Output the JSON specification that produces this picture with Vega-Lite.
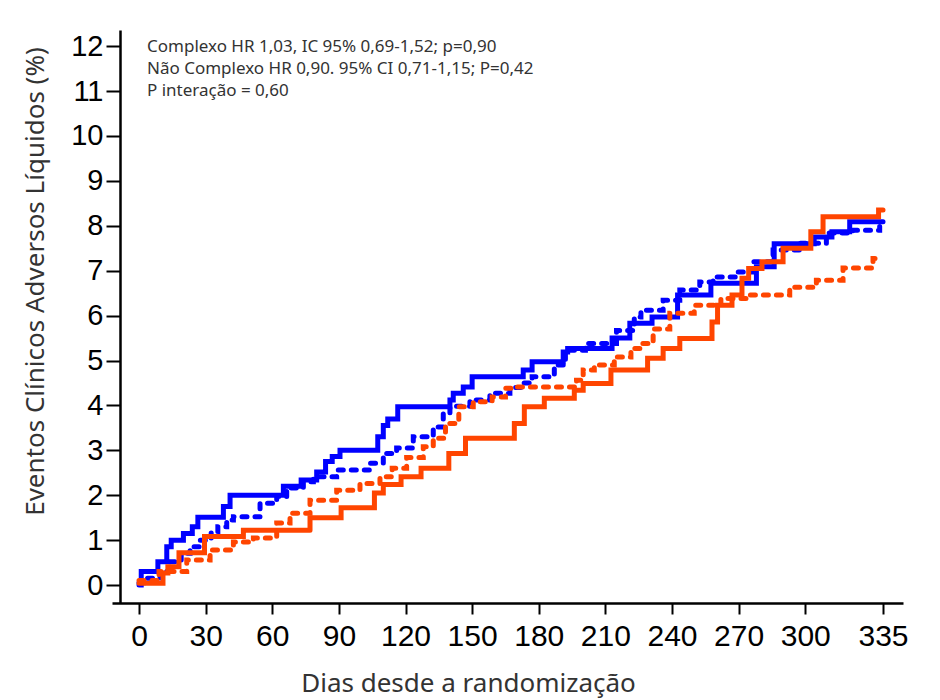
{
  "$schema": "https://vega.github.io/schema/vega-lite/v6.json",
  "autosize": {"type": "none"},
  "padding": {"left": 112, "top": 30, "right": 37, "bottom": 97},
  "width": 791,
  "height": 573,
  "background": "white",
  "config": {
    "view": {"stroke": null},
    "axis": {"grid": false, "domainColor": "black", "tickColor": "black", "labelColor": "black"}
  },
  "datasets": {
    "curvas": [
      {"grupo": "Grupo 1", "tipo": "Complexo", "dia": 0, "eventos": 0},
      {"grupo": "Grupo 1", "tipo": "Complexo", "dia": 1, "eventos": 0.3},
      {"grupo": "Grupo 1", "tipo": "Complexo", "dia": 8.5, "eventos": 0.52},
      {"grupo": "Grupo 1", "tipo": "Complexo", "dia": 12.5, "eventos": 0.85},
      {"grupo": "Grupo 1", "tipo": "Complexo", "dia": 14.5, "eventos": 1.0},
      {"grupo": "Grupo 1", "tipo": "Complexo", "dia": 20, "eventos": 1.15},
      {"grupo": "Grupo 1", "tipo": "Complexo", "dia": 24, "eventos": 1.3},
      {"grupo": "Grupo 1", "tipo": "Complexo", "dia": 26.5, "eventos": 1.51},
      {"grupo": "Grupo 1", "tipo": "Complexo", "dia": 38, "eventos": 1.75},
      {"grupo": "Grupo 1", "tipo": "Complexo", "dia": 41, "eventos": 2.0},
      {"grupo": "Grupo 1", "tipo": "Complexo", "dia": 65, "eventos": 2.2},
      {"grupo": "Grupo 1", "tipo": "Complexo", "dia": 73, "eventos": 2.34},
      {"grupo": "Grupo 1", "tipo": "Complexo", "dia": 80, "eventos": 2.52},
      {"grupo": "Grupo 1", "tipo": "Complexo", "dia": 84, "eventos": 2.75},
      {"grupo": "Grupo 1", "tipo": "Complexo", "dia": 87, "eventos": 2.86},
      {"grupo": "Grupo 1", "tipo": "Complexo", "dia": 90.5, "eventos": 3.0},
      {"grupo": "Grupo 1", "tipo": "Complexo", "dia": 107.5, "eventos": 3.3},
      {"grupo": "Grupo 1", "tipo": "Complexo", "dia": 110, "eventos": 3.55},
      {"grupo": "Grupo 1", "tipo": "Complexo", "dia": 112, "eventos": 3.7},
      {"grupo": "Grupo 1", "tipo": "Complexo", "dia": 116.5, "eventos": 3.97},
      {"grupo": "Grupo 1", "tipo": "Complexo", "dia": 140, "eventos": 4.12},
      {"grupo": "Grupo 1", "tipo": "Complexo", "dia": 141.5, "eventos": 4.27},
      {"grupo": "Grupo 1", "tipo": "Complexo", "dia": 146, "eventos": 4.41},
      {"grupo": "Grupo 1", "tipo": "Complexo", "dia": 150, "eventos": 4.64},
      {"grupo": "Grupo 1", "tipo": "Complexo", "dia": 173, "eventos": 4.79},
      {"grupo": "Grupo 1", "tipo": "Complexo", "dia": 177, "eventos": 4.97},
      {"grupo": "Grupo 1", "tipo": "Complexo", "dia": 191, "eventos": 5.19},
      {"grupo": "Grupo 1", "tipo": "Complexo", "dia": 193, "eventos": 5.27},
      {"grupo": "Grupo 1", "tipo": "Complexo", "dia": 213, "eventos": 5.5},
      {"grupo": "Grupo 1", "tipo": "Complexo", "dia": 221, "eventos": 5.83},
      {"grupo": "Grupo 1", "tipo": "Complexo", "dia": 231, "eventos": 5.97},
      {"grupo": "Grupo 1", "tipo": "Complexo", "dia": 242.5, "eventos": 6.46},
      {"grupo": "Grupo 1", "tipo": "Complexo", "dia": 257.5, "eventos": 6.72},
      {"grupo": "Grupo 1", "tipo": "Complexo", "dia": 278, "eventos": 7.09},
      {"grupo": "Grupo 1", "tipo": "Complexo", "dia": 286, "eventos": 7.6},
      {"grupo": "Grupo 1", "tipo": "Complexo", "dia": 304, "eventos": 7.75},
      {"grupo": "Grupo 1", "tipo": "Complexo", "dia": 312, "eventos": 7.87},
      {"grupo": "Grupo 1", "tipo": "Complexo", "dia": 320, "eventos": 8.09},
      {"grupo": "Grupo 1", "tipo": "Complexo", "dia": 335, "eventos": 8.09},

      {"grupo": "Grupo 1", "tipo": "Não complexo", "dia": 0, "eventos": 0.05},
      {"grupo": "Grupo 1", "tipo": "Não complexo", "dia": 2, "eventos": 0.15},
      {"grupo": "Grupo 1", "tipo": "Não complexo", "dia": 9.5, "eventos": 0.3},
      {"grupo": "Grupo 1", "tipo": "Não complexo", "dia": 14, "eventos": 0.52},
      {"grupo": "Grupo 1", "tipo": "Não complexo", "dia": 19, "eventos": 0.71},
      {"grupo": "Grupo 1", "tipo": "Não complexo", "dia": 23, "eventos": 0.85},
      {"grupo": "Grupo 1", "tipo": "Não complexo", "dia": 27.5, "eventos": 1.0},
      {"grupo": "Grupo 1", "tipo": "Não complexo", "dia": 32.5, "eventos": 1.19},
      {"grupo": "Grupo 1", "tipo": "Não complexo", "dia": 35.5, "eventos": 1.3},
      {"grupo": "Grupo 1", "tipo": "Não complexo", "dia": 39.5, "eventos": 1.45},
      {"grupo": "Grupo 1", "tipo": "Não complexo", "dia": 42.5, "eventos": 1.52},
      {"grupo": "Grupo 1", "tipo": "Não complexo", "dia": 54.5, "eventos": 1.82},
      {"grupo": "Grupo 1", "tipo": "Não complexo", "dia": 62, "eventos": 1.97},
      {"grupo": "Grupo 1", "tipo": "Não complexo", "dia": 66.5, "eventos": 2.16},
      {"grupo": "Grupo 1", "tipo": "Não complexo", "dia": 74, "eventos": 2.3},
      {"grupo": "Grupo 1", "tipo": "Não complexo", "dia": 78.5, "eventos": 2.41},
      {"grupo": "Grupo 1", "tipo": "Não complexo", "dia": 89, "eventos": 2.56},
      {"grupo": "Grupo 1", "tipo": "Não complexo", "dia": 104, "eventos": 2.71},
      {"grupo": "Grupo 1", "tipo": "Não complexo", "dia": 110, "eventos": 2.93},
      {"grupo": "Grupo 1", "tipo": "Não complexo", "dia": 116, "eventos": 3.05},
      {"grupo": "Grupo 1", "tipo": "Não complexo", "dia": 123.5, "eventos": 3.3},
      {"grupo": "Grupo 1", "tipo": "Não complexo", "dia": 132.5, "eventos": 3.52},
      {"grupo": "Grupo 1", "tipo": "Não complexo", "dia": 137, "eventos": 3.82},
      {"grupo": "Grupo 1", "tipo": "Não complexo", "dia": 140, "eventos": 3.98},
      {"grupo": "Grupo 1", "tipo": "Não complexo", "dia": 149, "eventos": 4.12},
      {"grupo": "Grupo 1", "tipo": "Não complexo", "dia": 158, "eventos": 4.27},
      {"grupo": "Grupo 1", "tipo": "Não complexo", "dia": 167, "eventos": 4.4},
      {"grupo": "Grupo 1", "tipo": "Não complexo", "dia": 172, "eventos": 4.5},
      {"grupo": "Grupo 1", "tipo": "Não complexo", "dia": 177, "eventos": 4.64},
      {"grupo": "Grupo 1", "tipo": "Não complexo", "dia": 187, "eventos": 4.9},
      {"grupo": "Grupo 1", "tipo": "Não complexo", "dia": 192, "eventos": 5.23},
      {"grupo": "Grupo 1", "tipo": "Não complexo", "dia": 201, "eventos": 5.38},
      {"grupo": "Grupo 1", "tipo": "Não complexo", "dia": 215, "eventos": 5.67},
      {"grupo": "Grupo 1", "tipo": "Não complexo", "dia": 223, "eventos": 5.97},
      {"grupo": "Grupo 1", "tipo": "Não complexo", "dia": 226, "eventos": 6.12},
      {"grupo": "Grupo 1", "tipo": "Não complexo", "dia": 236, "eventos": 6.34},
      {"grupo": "Grupo 1", "tipo": "Não complexo", "dia": 243.5, "eventos": 6.57},
      {"grupo": "Grupo 1", "tipo": "Não complexo", "dia": 252.5, "eventos": 6.75},
      {"grupo": "Grupo 1", "tipo": "Não complexo", "dia": 258.5, "eventos": 6.86},
      {"grupo": "Grupo 1", "tipo": "Não complexo", "dia": 269, "eventos": 6.97},
      {"grupo": "Grupo 1", "tipo": "Não complexo", "dia": 276.5, "eventos": 7.2},
      {"grupo": "Grupo 1", "tipo": "Não complexo", "dia": 285.5, "eventos": 7.46},
      {"grupo": "Grupo 1", "tipo": "Não complexo", "dia": 297.5, "eventos": 7.61},
      {"grupo": "Grupo 1", "tipo": "Não complexo", "dia": 309.5, "eventos": 7.84},
      {"grupo": "Grupo 1", "tipo": "Não complexo", "dia": 321.5, "eventos": 7.9},
      {"grupo": "Grupo 1", "tipo": "Não complexo", "dia": 333.5, "eventos": 8.05},
      {"grupo": "Grupo 1", "tipo": "Não complexo", "dia": 335, "eventos": 8.05},

      {"grupo": "Grupo 2", "tipo": "Complexo", "dia": 0, "eventos": 0.04},
      {"grupo": "Grupo 2", "tipo": "Complexo", "dia": 10.8, "eventos": 0.27},
      {"grupo": "Grupo 2", "tipo": "Complexo", "dia": 13, "eventos": 0.41},
      {"grupo": "Grupo 2", "tipo": "Complexo", "dia": 18, "eventos": 0.72},
      {"grupo": "Grupo 2", "tipo": "Complexo", "dia": 29.5, "eventos": 1.08},
      {"grupo": "Grupo 2", "tipo": "Complexo", "dia": 47, "eventos": 1.22},
      {"grupo": "Grupo 2", "tipo": "Complexo", "dia": 77, "eventos": 1.5},
      {"grupo": "Grupo 2", "tipo": "Complexo", "dia": 91, "eventos": 1.72},
      {"grupo": "Grupo 2", "tipo": "Complexo", "dia": 106, "eventos": 2.05},
      {"grupo": "Grupo 2", "tipo": "Complexo", "dia": 110, "eventos": 2.24},
      {"grupo": "Grupo 2", "tipo": "Complexo", "dia": 118, "eventos": 2.41},
      {"grupo": "Grupo 2", "tipo": "Complexo", "dia": 127, "eventos": 2.6},
      {"grupo": "Grupo 2", "tipo": "Complexo", "dia": 139.5, "eventos": 2.93},
      {"grupo": "Grupo 2", "tipo": "Complexo", "dia": 147, "eventos": 3.27},
      {"grupo": "Grupo 2", "tipo": "Complexo", "dia": 169, "eventos": 3.6},
      {"grupo": "Grupo 2", "tipo": "Complexo", "dia": 173.5, "eventos": 3.97},
      {"grupo": "Grupo 2", "tipo": "Complexo", "dia": 182.5, "eventos": 4.16},
      {"grupo": "Grupo 2", "tipo": "Complexo", "dia": 196, "eventos": 4.34},
      {"grupo": "Grupo 2", "tipo": "Complexo", "dia": 200, "eventos": 4.49},
      {"grupo": "Grupo 2", "tipo": "Complexo", "dia": 212.5, "eventos": 4.79},
      {"grupo": "Grupo 2", "tipo": "Complexo", "dia": 229, "eventos": 5.05},
      {"grupo": "Grupo 2", "tipo": "Complexo", "dia": 236, "eventos": 5.27},
      {"grupo": "Grupo 2", "tipo": "Complexo", "dia": 243.5, "eventos": 5.49},
      {"grupo": "Grupo 2", "tipo": "Complexo", "dia": 258, "eventos": 5.86},
      {"grupo": "Grupo 2", "tipo": "Complexo", "dia": 260.5, "eventos": 6.23},
      {"grupo": "Grupo 2", "tipo": "Complexo", "dia": 267, "eventos": 6.46},
      {"grupo": "Grupo 2", "tipo": "Complexo", "dia": 271.5, "eventos": 6.83},
      {"grupo": "Grupo 2", "tipo": "Complexo", "dia": 274.5, "eventos": 7.05},
      {"grupo": "Grupo 2", "tipo": "Complexo", "dia": 280.5, "eventos": 7.2},
      {"grupo": "Grupo 2", "tipo": "Complexo", "dia": 290, "eventos": 7.5},
      {"grupo": "Grupo 2", "tipo": "Complexo", "dia": 302.5, "eventos": 7.87},
      {"grupo": "Grupo 2", "tipo": "Complexo", "dia": 308, "eventos": 8.2},
      {"grupo": "Grupo 2", "tipo": "Complexo", "dia": 333, "eventos": 8.35},
      {"grupo": "Grupo 2", "tipo": "Complexo", "dia": 335, "eventos": 8.35},

      {"grupo": "Grupo 2", "tipo": "Não complexo", "dia": 0, "eventos": 0.1},
      {"grupo": "Grupo 2", "tipo": "Não complexo", "dia": 9, "eventos": 0.3},
      {"grupo": "Grupo 2", "tipo": "Não complexo", "dia": 21.5, "eventos": 0.56},
      {"grupo": "Grupo 2", "tipo": "Não complexo", "dia": 32, "eventos": 0.78},
      {"grupo": "Grupo 2", "tipo": "Não complexo", "dia": 42.5, "eventos": 0.96},
      {"grupo": "Grupo 2", "tipo": "Não complexo", "dia": 51.5, "eventos": 1.05},
      {"grupo": "Grupo 2", "tipo": "Não complexo", "dia": 62, "eventos": 1.38},
      {"grupo": "Grupo 2", "tipo": "Não complexo", "dia": 68, "eventos": 1.6},
      {"grupo": "Grupo 2", "tipo": "Não complexo", "dia": 77, "eventos": 1.89},
      {"grupo": "Grupo 2", "tipo": "Não complexo", "dia": 89, "eventos": 2.11},
      {"grupo": "Grupo 2", "tipo": "Não complexo", "dia": 99.5, "eventos": 2.26},
      {"grupo": "Grupo 2", "tipo": "Não complexo", "dia": 108.5, "eventos": 2.41},
      {"grupo": "Grupo 2", "tipo": "Não complexo", "dia": 114, "eventos": 2.6},
      {"grupo": "Grupo 2", "tipo": "Não complexo", "dia": 120.5, "eventos": 2.84},
      {"grupo": "Grupo 2", "tipo": "Não complexo", "dia": 128, "eventos": 3.08},
      {"grupo": "Grupo 2", "tipo": "Não complexo", "dia": 132.5, "eventos": 3.27},
      {"grupo": "Grupo 2", "tipo": "Não complexo", "dia": 138, "eventos": 3.6},
      {"grupo": "Grupo 2", "tipo": "Não complexo", "dia": 144, "eventos": 3.97},
      {"grupo": "Grupo 2", "tipo": "Não complexo", "dia": 150.5, "eventos": 4.08},
      {"grupo": "Grupo 2", "tipo": "Não complexo", "dia": 159, "eventos": 4.19},
      {"grupo": "Grupo 2", "tipo": "Não complexo", "dia": 165, "eventos": 4.38},
      {"grupo": "Grupo 2", "tipo": "Não complexo", "dia": 168, "eventos": 4.41},
      {"grupo": "Grupo 2", "tipo": "Não complexo", "dia": 197, "eventos": 4.56},
      {"grupo": "Grupo 2", "tipo": "Não complexo", "dia": 200, "eventos": 4.79},
      {"grupo": "Grupo 2", "tipo": "Não complexo", "dia": 205, "eventos": 4.9},
      {"grupo": "Grupo 2", "tipo": "Não complexo", "dia": 214, "eventos": 5.08},
      {"grupo": "Grupo 2", "tipo": "Não complexo", "dia": 221.5, "eventos": 5.27},
      {"grupo": "Grupo 2", "tipo": "Não complexo", "dia": 226, "eventos": 5.38},
      {"grupo": "Grupo 2", "tipo": "Não complexo", "dia": 231.5, "eventos": 5.7},
      {"grupo": "Grupo 2", "tipo": "Não complexo", "dia": 239, "eventos": 6.05},
      {"grupo": "Grupo 2", "tipo": "Não complexo", "dia": 250, "eventos": 6.23},
      {"grupo": "Grupo 2", "tipo": "Não complexo", "dia": 262, "eventos": 6.38},
      {"grupo": "Grupo 2", "tipo": "Não complexo", "dia": 273.5, "eventos": 6.46},
      {"grupo": "Grupo 2", "tipo": "Não complexo", "dia": 293, "eventos": 6.63},
      {"grupo": "Grupo 2", "tipo": "Não complexo", "dia": 305, "eventos": 6.79},
      {"grupo": "Grupo 2", "tipo": "Não complexo", "dia": 317, "eventos": 7.06},
      {"grupo": "Grupo 2", "tipo": "Não complexo", "dia": 330.5, "eventos": 7.27},
      {"grupo": "Grupo 2", "tipo": "Não complexo", "dia": 335, "eventos": 7.27}
    ],
    "nota": [{"anotacao": "estatisticas"}]
  },
  "layer": [
    {
      "data": {"name": "curvas"},
      "mark": {"type": "line", "interpolate": "step-after", "strokeWidth": 5, "strokeCap": "round", "clip": false},
      "encoding": {
        "x": {
          "field": "dia", "type": "quantitative",
          "scale": {"domain": [-12.16, 344.0], "nice": false, "zero": false},
          "axis": {
            "values": [0, 30, 60, 90, 120, 150, 180, 210, 240, 270, 300, 335],
            "domainWidth": 2.5, "tickWidth": 2, "tickSize": 11,
            "labelFont": "Liberation Sans Narrow, Arial Narrow, Liberation Sans, Arial, sans-serif", "labelFontSize": 30, "labelPadding": 7,
            "labelFlush": false, "labelOverlap": false,
            "title": "Dias desde a randomização",
            "titleFont": "Noto Sans", "titleFontSize": 26, "titleFontWeight": "normal", "titleColor": "#333333",
            "titleX": 356, "titleY": 88, "titleAlign": "center", "titleBaseline": "alphabetic", "titleAnchor": null
          }
        },
        "y": {
          "field": "eventos", "type": "quantitative",
          "scale": {"domain": [-0.4, 12.36], "nice": false, "zero": false},
          "axis": {
            "values": [0, 1, 2, 3, 4, 5, 6, 7, 8, 9, 10, 11, 12],
            "offset": -8, "domainWidth": 2.5, "tickWidth": 2, "tickSize": 14,
            "labelFont": "Liberation Sans, Arial, sans-serif", "labelFontSize": 29, "labelPadding": 3,
            "labelFlush": false, "labelOverlap": false,
            "title": "Eventos Clínicos Adversos Líquidos (%)",
            "titleFont": "Noto Sans", "titleFontSize": 26, "titleFontWeight": "normal", "titleColor": "#333333",
            "titleAngle": -90, "titleX": -85, "titleY": 251, "titleAlign": "center", "titleBaseline": "middle", "titleAnchor": null
          }
        },
        "color": {
          "field": "grupo", "type": "nominal",
          "scale": {"domain": ["Grupo 1", "Grupo 2"], "range": ["#0000FF", "#FF4500"]},
          "legend": null
        },
        "strokeDash": {
          "field": "tipo", "type": "nominal",
          "scale": {"domain": ["Complexo", "Não complexo"], "range": [[1, 0], [5, 8]]},
          "legend": null
        }
      }
    },
    {
      "data": {"name": "nota"},
      "mark": {
        "type": "text",
        "text": ["Complexo HR 1,03, IC 95% 0,69-1,52; p=0,90", "Não Complexo HR 0,90. 95% CI 0,71-1,15; P=0,42", "P interação = 0,60"],
        "align": "left", "baseline": "alphabetic", "font": "Noto Sans", "fontSize": 17, "lineHeight": 22, "color": "#333333"
      },
      "encoding": {
        "x": {"datum": 3.6, "type": "quantitative"},
        "y": {"datum": 11.87, "type": "quantitative"}
      }
    }
  ]
}
